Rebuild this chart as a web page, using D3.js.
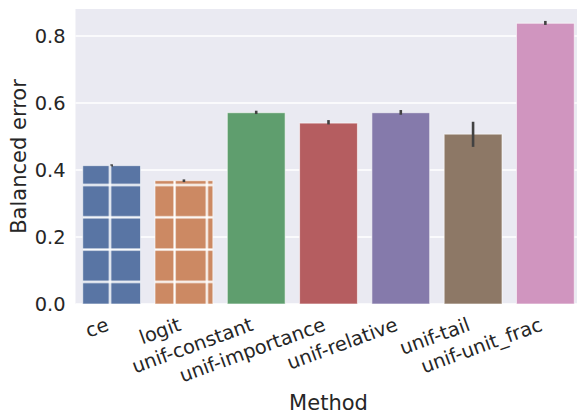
<!DOCTYPE html>
<html>
<head>
<meta charset="utf-8">
<script src="https://cdn.jsdelivr.net/npm/d3@7"></script>
<style>
  body { margin: 0; background: #fff; }
  svg { display: block; font-family: "DejaVu Sans", sans-serif; }
</style>
</head>
<body>
<div id="chart"></div>
<script>
// data
const methods = ["ce", "logit", "unif-constant", "unif-importance", "unif-relative", "unif-tail", "unif-unit_frac"];
const values  = [0.413, 0.368, 0.571, 0.540, 0.571, 0.507, 0.838];
const ciLow   = [0.410, 0.364, 0.567, 0.536, 0.565, 0.469, 0.833];
const ciHigh  = [0.417, 0.372, 0.577, 0.549, 0.579, 0.544, 0.845];
const hatched = ["ce", "logit"];
const colors  = ["#5975a4", "#cc8963", "#5f9e6e", "#b55d60", "#857aab", "#8d7866", "#d095bf"];
const yTicks  = [0, 0.2, 0.4, 0.6, 0.8];

const W = 577, H = 419;
// plot runs a little past the right edge of the window, like the reference
const margin = {top: 9, right: -4.5, bottom: 115, left: 75.5};
const plotW = W - margin.left - margin.right;
const plotH = H - margin.top - margin.bottom;

const rows = methods.map((m, i) => ({method: m, value: values[i], lo: ciLow[i], hi: ciHigh[i], color: colors[i]}));

const svg = d3.select("#chart").append("svg")
  .attr("width", W)
  .attr("height", H);

// white "+" hatch for the first two bars
const hatchStep = 32.3, hatchW = 2.2;
const pat = svg.append("defs").append("pattern")
  .attr("id", "plus-hatch")
  .attr("patternUnits", "userSpaceOnUse")
  .attr("x", 110 - hatchStep / 2)
  .attr("y", 185 - hatchStep / 2)
  .attr("width", hatchStep)
  .attr("height", hatchStep);
pat.append("rect").attr("x", (hatchStep - hatchW) / 2).attr("y", 0).attr("width", hatchW).attr("height", hatchStep).attr("fill", "#fff");
pat.append("rect").attr("x", 0).attr("y", (hatchStep - hatchW) / 2).attr("width", hatchStep).attr("height", hatchW).attr("fill", "#fff");

const g = svg.append("g")
  .attr("transform", "translate(" + margin.left + "," + margin.top + ")");

const x = d3.scaleBand().domain(methods).range([0, plotW]).paddingInner(0.2).paddingOuter(0.1);
const y = d3.scaleLinear().domain([0, 0.8806]).range([plotH, 0]);

// background
g.append("rect")
  .attr("width", plotW)
  .attr("height", plotH)
  .attr("fill", "#eaeaf2");

// grid
g.selectAll(".grid")
  .data(yTicks)
  .enter().append("line")
  .attr("class", "grid")
  .attr("x1", 0).attr("x2", plotW)
  .attr("y1", d => y(d)).attr("y2", d => y(d))
  .attr("stroke", "#fff")
  .attr("stroke-width", 1.4);

// bars
g.selectAll(".bar")
  .data(rows)
  .enter().append("rect")
  .attr("class", "bar")
  .attr("x", d => x(d.method))
  .attr("y", d => y(d.value))
  .attr("width", x.bandwidth())
  .attr("height", d => plotH - y(d.value))
  .attr("fill", d => d.color)
  .attr("stroke", "#fff")
  .attr("stroke-opacity", 0.6)
  .attr("stroke-width", 1);

// hatch drawn in svg coords so the pattern lines up with its user space
svg.selectAll(".hatch")
  .data(rows.filter(d => hatched.includes(d.method)))
  .enter().append("rect")
  .attr("class", "hatch")
  .attr("x", d => margin.left + x(d.method))
  .attr("y", d => margin.top + y(d.value))
  .attr("width", x.bandwidth())
  .attr("height", d => plotH - y(d.value))
  .attr("fill", "url(#plus-hatch)");

// error bars
g.selectAll(".err")
  .data(rows)
  .enter().append("line")
  .attr("class", "err")
  .attr("x1", d => x(d.method) + x.bandwidth() / 2)
  .attr("x2", d => x(d.method) + x.bandwidth() / 2)
  .attr("y1", d => y(d.lo))
  .attr("y2", d => y(d.hi))
  .attr("stroke", "#424242")
  .attr("stroke-width", 2.6);

// y axis
const yAxis = d3.axisLeft(y).tickValues(yTicks).tickFormat(d3.format(".1f")).tickSize(0).tickPadding(10);
g.append("g")
  .call(yAxis)
  .call(a => a.select(".domain").remove())
  .selectAll("text")
  .attr("font-family", "DejaVu Sans")
  .attr("font-size", 19.4)
  .attr("fill", "#262626");

// x axis labels, rotated
g.selectAll(".xlab")
  .data(methods)
  .enter().append("text")
  .attr("class", "xlab")
  .attr("transform", d => "translate(" + (x(d) + x.bandwidth() / 2 - 1.8) + "," + (plotH + 26) + ") rotate(-20)")
  .attr("text-anchor", "end")
  .attr("font-size", 19.4)
  .attr("fill", "#262626")
  .text(d => d);

// axis titles
svg.append("text")
  .attr("x", margin.left + plotW / 2)
  .attr("y", 410)
  .attr("text-anchor", "middle")
  .attr("font-size", 21)
  .attr("fill", "#262626")
  .text("Method");

svg.append("text")
  .attr("transform", "translate(26," + (margin.top + plotH / 2) + ") rotate(-90)")
  .attr("text-anchor", "middle")
  .attr("font-size", 21)
  .attr("fill", "#262626")
  .text("Balanced error");
</script>
</body>
</html>
